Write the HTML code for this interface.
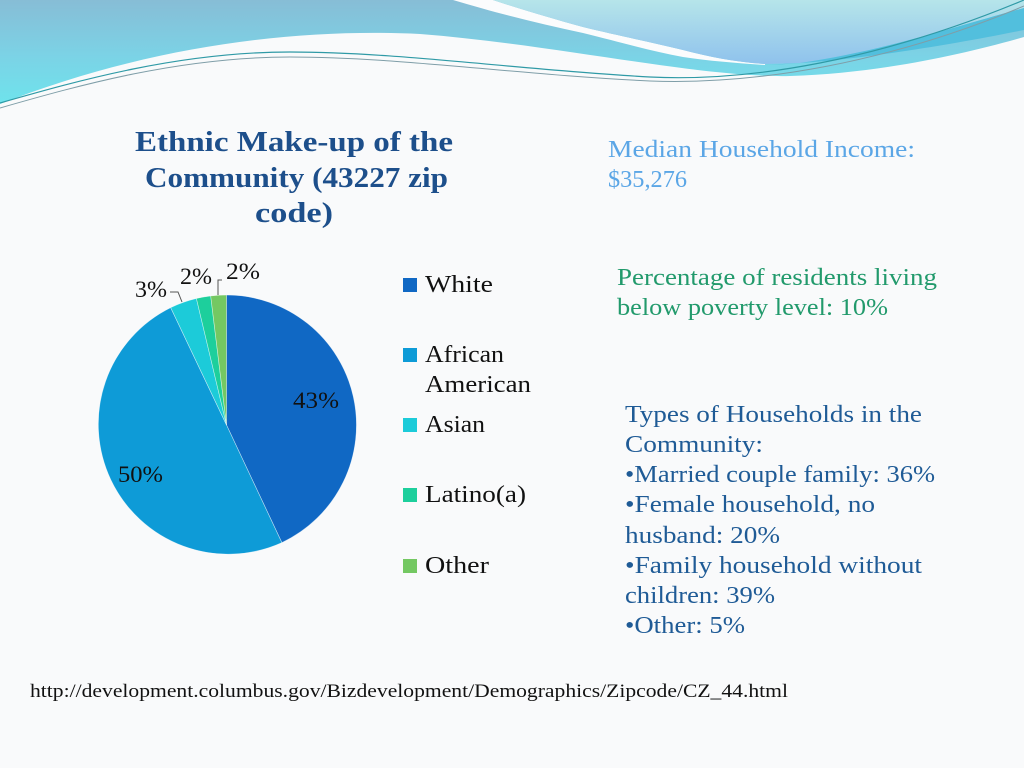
<!DOCTYPE html>
<html>
<head>
<meta charset="utf-8">
<style>
  html,body{margin:0;padding:0;background:#f9fafb;}
  svg{display:block;}
  text{font-family:"Liberation Serif","DejaVu Serif",serif;}
</style>
</head>
<body>
<svg width="1024" height="768" viewBox="0 0 1024 768" xmlns="http://www.w3.org/2000/svg">
  <defs>
    <linearGradient id="gBand" x1="0" y1="0" x2="0" y2="1" gradientUnits="objectBoundingBox">
      <stop offset="0" stop-color="#87bdd6"/>
      <stop offset="0.55" stop-color="#7bd3e6"/>
      <stop offset="1" stop-color="#6ee3ec"/>
    </linearGradient>
    <linearGradient id="gPale" x1="0" y1="0" x2="0" y2="1">
      <stop offset="0" stop-color="#b6e5ea"/>
      <stop offset="1" stop-color="#8fc2ec"/>
    </linearGradient>
  </defs>

  <rect width="1024" height="768" fill="#f9fafb"/>

  <!-- header wave -->
  <path d="M0,0 H1024 V37 C960,55 880,73 790,76 C700,78 560,45 420,34 C300,28 150,45 0,104 Z" fill="url(#gBand)"/>
  <path d="M453,0 C500,14 540,24 583,33 C620,42 650,51 683,57 C710,61 735,63 765,65 L765,64 C735,62 710,57 683,50 C650,42 620,36 583,27 C550,18 520,9 493,0 Z" fill="#fbfcfd"/>
  <path d="M493,0 H1024 V8 C960,25 880,52 800,63 L765,64 C735,62 710,57 683,50 C650,42 620,36 583,27 C550,18 520,9 493,0 Z" fill="url(#gPale)"/>
  <path d="M765,65 C850,62 950,45 1024,30 V8 C960,25 880,52 800,63 Z" fill="#52bfdd"/>
  <path d="M0,103 C80,80 180,52 290,52 C400,52 520,70 650,77 C750,82 880,60 1024,0" fill="none" stroke="#2f9aa6" stroke-width="1.2"/>
  <path d="M0,108 C80,85 180,57 290,57 C400,57 520,75 650,81 C760,85 890,62 1024,6" fill="none" stroke="#7f9ea8" stroke-width="1"/>

  <!-- Title -->
  <g fill="#1d4f8b" font-weight="bold" font-size="28" text-anchor="start">
    <text x="135" y="151" textLength="318" lengthAdjust="spacingAndGlyphs">Ethnic Make-up of the</text>
    <text x="145" y="187" textLength="303" lengthAdjust="spacingAndGlyphs">Community (43227 zip</text>
    <text x="255" y="222" textLength="78" lengthAdjust="spacingAndGlyphs">code)</text>
  </g>

  <!-- Pie -->
  <g stroke="#ffffff" stroke-width="0.6" stroke-opacity="0.6">
    <path d="M226.5,425 L226.5,295 A130,130 0 0 1 281.85,542.6 Z" fill="#1068c4"/>
    <path d="M226.5,425 L281.85,542.6 A130,130 0 0 1 170.7,307.6 Z" fill="#0e9bd7"/>
    <path d="M226.5,425 L170.7,307.6 A130,130 0 0 1 196.4,298.5 Z" fill="#1ccbd9"/>
    <path d="M226.5,425 L196.4,298.5 A130,130 0 0 1 210.7,296 Z" fill="#1dcf9c"/>
    <path d="M226.5,425 L210.7,296 A130,130 0 0 1 226.5,295 Z" fill="#74c862"/>
  </g>

  <!-- pie labels -->
  <g fill="#111" font-size="23">
    <text x="293" y="408" textLength="46" lengthAdjust="spacingAndGlyphs">43%</text>
    <text x="118" y="482" textLength="45" lengthAdjust="spacingAndGlyphs">50%</text>
    <text x="135" y="297" textLength="32" lengthAdjust="spacingAndGlyphs">3%</text>
    <text x="180" y="284" textLength="32" lengthAdjust="spacingAndGlyphs">2%</text>
    <text x="226" y="279" textLength="34" lengthAdjust="spacingAndGlyphs">2%</text>
  </g>
  <g fill="none" stroke="#555" stroke-width="1">
    <path d="M170,292 L178,292 L182,302"/>
    <path d="M222,280 L218,280 L218,295"/>
  </g>

  <!-- Legend -->
  <rect x="403" y="278" width="14" height="14" fill="#1068c4"/>
  <rect x="403" y="348" width="14" height="14" fill="#0e9bd7"/>
  <rect x="403" y="418" width="14" height="14" fill="#1ccbd9"/>
  <rect x="403" y="488" width="14" height="14" fill="#1dcf9c"/>
  <rect x="403" y="559" width="14" height="14" fill="#74c862"/>
  <g fill="#111" font-size="24">
    <text x="425" y="292" textLength="68" lengthAdjust="spacingAndGlyphs">White</text>
    <text x="425" y="362" textLength="79" lengthAdjust="spacingAndGlyphs">African</text>
    <text x="425" y="392" textLength="106" lengthAdjust="spacingAndGlyphs">American</text>
    <text x="425" y="432" textLength="60" lengthAdjust="spacingAndGlyphs">Asian</text>
    <text x="425" y="502" textLength="101" lengthAdjust="spacingAndGlyphs">Latino(a)</text>
    <text x="425" y="573" textLength="64" lengthAdjust="spacingAndGlyphs">Other</text>
  </g>

  <!-- Right side text -->
  <g fill="#5ba6e6" font-size="24">
    <text x="608" y="157" textLength="307" lengthAdjust="spacingAndGlyphs">Median Household Income:</text>
    <text x="608" y="187" textLength="79" lengthAdjust="spacingAndGlyphs">$35,276</text>
  </g>
  <g fill="#229a6c" font-size="24">
    <text x="617" y="285" textLength="320" lengthAdjust="spacingAndGlyphs">Percentage of residents living</text>
    <text x="617" y="315" textLength="271" lengthAdjust="spacingAndGlyphs">below poverty level:  10%</text>
  </g>
  <g fill="#1f5b96" font-size="24">
    <text x="625" y="422" textLength="297" lengthAdjust="spacingAndGlyphs">Types of Households in the</text>
    <text x="625" y="452" textLength="138" lengthAdjust="spacingAndGlyphs">Community:</text>
    <text x="625" y="482" textLength="310" lengthAdjust="spacingAndGlyphs">•Married couple family: 36%</text>
    <text x="625" y="512" textLength="250" lengthAdjust="spacingAndGlyphs">•Female household, no</text>
    <text x="625" y="543" textLength="155" lengthAdjust="spacingAndGlyphs">husband: 20%</text>
    <text x="625" y="573" textLength="297" lengthAdjust="spacingAndGlyphs">•Family household without</text>
    <text x="625" y="603" textLength="150" lengthAdjust="spacingAndGlyphs">children: 39%</text>
    <text x="625" y="633" textLength="120" lengthAdjust="spacingAndGlyphs">•Other: 5%</text>
  </g>

  <!-- Source -->
  <text x="30" y="697" fill="#111" font-size="19" textLength="758" lengthAdjust="spacingAndGlyphs">http://development.columbus.gov/Bizdevelopment/Demographics/Zipcode/CZ_44.html</text>
</svg>
</body>
</html>
